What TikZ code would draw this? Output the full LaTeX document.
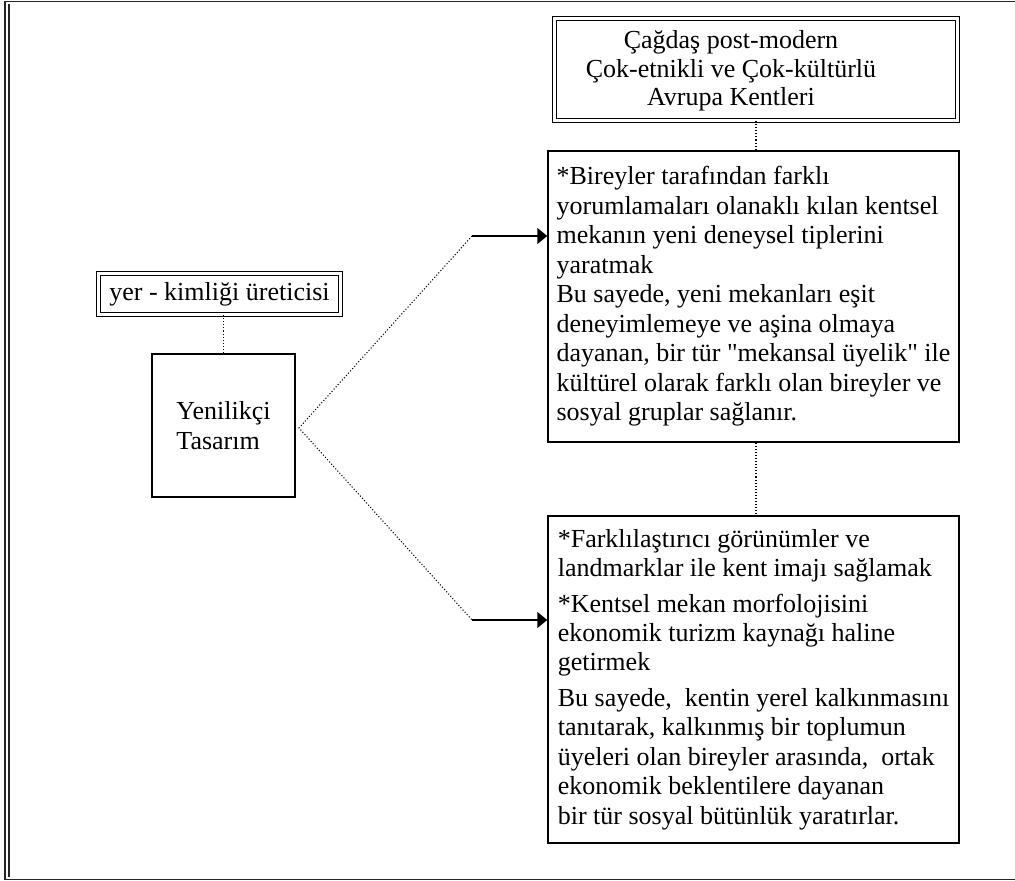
\documentclass[tikz,border=0pt]{standalone}
\usepackage{fontspec}
\setmainfont{Liberation Serif}[Ligatures=TeXOff]
\usetikzlibrary{arrows.meta}
\begin{document}
\begin{tikzpicture}[x=0.75pt,y=-0.75pt,
  every node/.style={font=\fontsize{19.5pt}{22.1pt}\selectfont, text=black},
  plainbox/.style={draw, line width=1.1pt, inner sep=0pt},
  doublebox/.style={draw, double, double distance=2.2pt, line width=0.9pt, inner sep=0pt},
  dotline/.style={line width=0.8pt, dash pattern=on 0.8pt off 1.5pt},
  pointer/.style={line width=1.1pt, -{Triangle[length=7.5pt,width=12pt]}},
  frameline/.style={line width=1pt, draw=black!85}]
\useasboundingbox (0,0) rectangle (1015,881);

% page frame: double rule on the left, single rules top and bottom
\draw[frameline] (1015,1.5) -- (5,1.5) -- (5,879.5) -- (1015,879.5);
\draw[frameline] (9,4) -- (9,877);

% boxes
\node[doublebox, minimum width=302.25pt, minimum height=76.5pt] (cities) at (756,69.5) {};
\node[align=center, font=\fontsize{19.5pt}{21.4pt}\selectfont] (citiesText) at (731,71)
  {Çağdaş post-modern\\Çok-etnikli ve Çok-kültürlü\\Avrupa Kentleri};

\node[plainbox, align=left, minimum width=308.25pt, minimum height=218.25pt] (strategyA) at (753.5,296.5)
  {*Bireyler tarafından farklı\\
   yorumlamaları olanaklı kılan kentsel\\
   mekanın yeni deneysel tiplerini\\
   yaratmak\\
   Bu sayede, yeni mekanları eşit\\
   deneyimlemeye ve aşina olmaya\\
   dayanan, bir tür "mekansal üyelik" ile\\
   kültürel olarak farklı olan bireyler ve\\
   sosyal gruplar sağlanır.};

\node[plainbox, align=left, minimum width=308.25pt, minimum height=245.25pt] (strategyB) at (753.5,679.5)
  {*Farklılaştırıcı görünümler ve\\
   landmarklar ile kent imajı sağlamak\\[4.5pt]
   *Kentsel mekan morfolojisini\\
   ekonomik turizm kaynağı haline\\
   getirmek\\[4.5pt]
   Bu sayede,~ kentin yerel kalkınmasını\\
   tanıtarak, kalkınmış bir toplumun\\
   üyeleri olan bireyler arasında,~ ortak\\
   ekonomik beklentilere dayanan\\
   bir tür sosyal bütünlük yaratırlar.};

\node[doublebox, minimum width=181.5pt, minimum height=30.75pt] (placeId) at (219.5,294) {yer - kimliği üreticisi};
\node[plainbox, align=left, minimum size=107.25pt] (design) at (223.5,425.5) {Yenilikçi\\Tasarım};

% connectors
\coordinate (fork) at (299,428);
\coordinate (toA) at (472,236);
\coordinate (toB) at (472,620);

\draw[dotline] (cities.south) -- (cities.south |- strategyA.north);
\draw[dotline] (strategyA.south -| cities.south) -- (cities.south |- strategyB.north);
\draw[dotline] (placeId.south -| design.north) -- (design.north);
\draw[dotline] (toA) -- (fork) -- (toB);
\draw[pointer] (toA) -- (toA -| strategyA.west);
\draw[pointer] (toB) -- (toB -| strategyB.west);
\end{tikzpicture}
\end{document}
